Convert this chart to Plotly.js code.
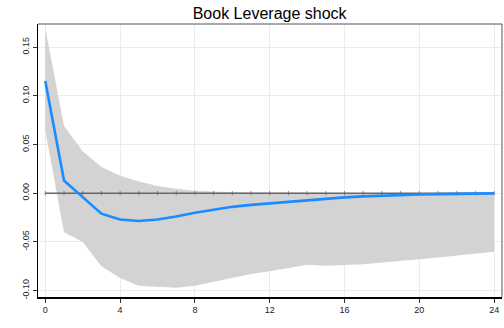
<!DOCTYPE html>
<html>
<head>
<meta charset="utf-8">
<script src="https://cdn.plot.ly/plotly-3.0.1.min.js"></script>
<style>html,body{margin:0;padding:0;background:#fff;}#chart{width:504px;height:328px;}</style>
</head>
<body>
<div id="chart"></div>
<script>
var horizon = [0,1,2,3,4,5,6,7,8,9,10,11,12,13,14,15,16,17,18,19,20,21,22,23,24];
var irf = [0.115,0.013,-0.004,-0.021,-0.027,-0.0285,-0.027,-0.024,-0.020,-0.017,-0.014,-0.012,-0.0105,-0.0085,-0.0068,-0.0054,-0.0043,-0.0033,-0.0025,-0.0019,-0.0014,-0.001,-0.0007,-0.0004,-0.0002];
var upper = [0.169,0.069,0.043,0.027,0.018,0.012,0.0075,0.0045,0.0025,0.0015,0.001,0.0008,0.0006,0.0005,0.0004,0.0004,0.0003,0.0003,0.0003,0.0003,0.0003,0.0003,0.0003,0.0003,0.0003];
var lower = [0.064,-0.040,-0.050,-0.075,-0.087,-0.095,-0.096,-0.097,-0.095,-0.091,-0.087,-0.083,-0.080,-0.077,-0.0735,-0.0745,-0.0735,-0.073,-0.071,-0.069,-0.0677,-0.066,-0.064,-0.062,-0.060];
var zero = horizon.map(function(){return 0;});
var xTicks = [0,4,8,12,16,20,24];
var yTicks = [-0.10,-0.05,0.00,0.05,0.10,0.15];
var yTickText = ["-0.10","-0.05","0.00","0.05","0.10","0.15"];
var titleText = "Book Leverage shock";

var traces = [
  {x: horizon, y: lower, mode: 'lines', line: {width: 0, color: '#d3d3d3'}, hoverinfo: 'skip', showlegend: false},
  {x: horizon, y: upper, mode: 'lines', fill: 'tonexty', fillcolor: '#d3d3d3', line: {width: 0, color: '#d3d3d3'}, hoverinfo: 'skip', showlegend: false},
  {x: horizon, y: zero, mode: 'lines+markers', line: {width: 1.5, color: '#666666'}, marker: {symbol: 'line-ns', size: 3, line: {width: 0.8, color: '#666666'}}, showlegend: false},
  {x: horizon, y: irf, mode: 'lines', line: {width: 2.6, color: '#1a8cff'}, showlegend: false}
];

var layout = {
  width: 504, height: 328,
  margin: {l: 38, r: 2, t: 24, b: 31},
  paper_bgcolor: '#ffffff', plot_bgcolor: '#ffffff',
  font: {family: 'Liberation Sans, Arial, sans-serif', color: '#222222', size: 9},
  title: {text: titleText, x: 0.535, xanchor: 'center', y: 0.96, yanchor: 'middle', font: {size: 16, color: '#000000', family: 'Liberation Sans, Arial, sans-serif'}},
  xaxis: {
    range: [-0.39, 24.42], tickvals: xTicks, ticks: 'outside', ticklen: 4, tickcolor: '#333',
    showgrid: true, gridcolor: '#ebebeb', gridwidth: 1, zeroline: false,
    showline: true, linecolor: '#000', linewidth: 1.5, tickfont: {size: 9, color: '#222'}
  },
  yaxis: {
    range: [-0.1065, 0.1736], tickvals: yTicks, ticktext: yTickText, tickangle: -90,
    ticks: 'outside', ticklen: 4, tickcolor: '#333',
    showgrid: true, gridcolor: '#ebebeb', gridwidth: 1, zeroline: false,
    showline: true, linecolor: '#000', linewidth: 1.5, tickfont: {size: 9, color: '#222'}
  },
  shapes: [
    {type: 'line', xref: 'paper', yref: 'paper', x0: 0, x1: 1, y0: 1, y1: 1, line: {color: '#555', width: 1}},
    {type: 'line', xref: 'paper', yref: 'paper', x0: 1, x1: 1, y0: 0, y1: 1, line: {color: '#555', width: 1}}
  ]
};

Plotly.newPlot('chart', traces, layout, {displayModeBar: false, staticPlot: true});
</script>
</body>
</html>
